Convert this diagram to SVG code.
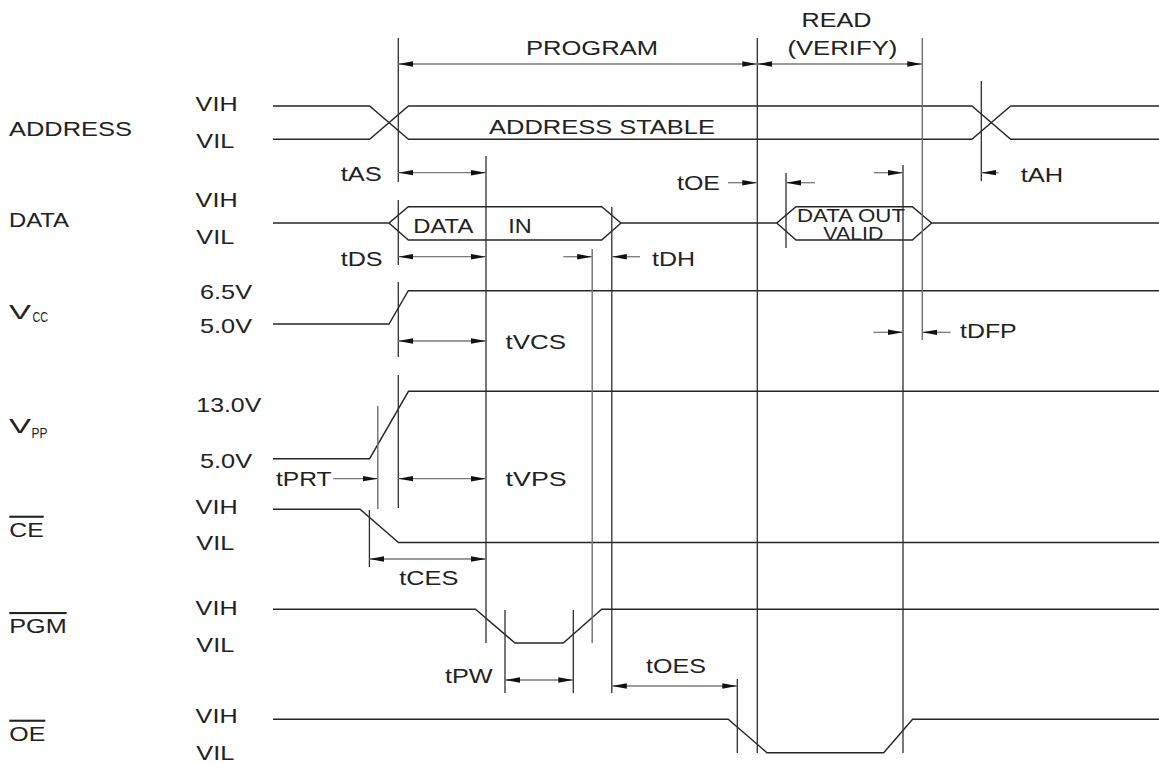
<svg xmlns="http://www.w3.org/2000/svg" width="1159" height="763" viewBox="0 0 1159 763">
<style>
text{font-family:"Liberation Sans",Arial,sans-serif;font-size:21px;fill:#222}
.sig{fill:none;stroke:#262626;stroke-width:1.4}
.ref{stroke:#2e2e2e;stroke-width:1.3}
.refg{stroke:#707070;stroke-width:1.4}
.dim{stroke:#7a7a7a;stroke-width:1.3;marker-start:url(#ah);marker-end:url(#ah)}
.arr{stroke:#7a7a7a;stroke-width:1.3;marker-end:url(#ah)}
.ov{text-decoration:overline}
</style>
<defs>
<marker id="ah" viewBox="0 0 15 6" refX="15" refY="3" markerWidth="15" markerHeight="6" markerUnits="userSpaceOnUse" orient="auto-start-reverse">
<path d="M0,0.3 L15,3 L0,5.7 z" fill="#111"/>
</marker>
</defs>
<rect width="1159" height="763" fill="#fff"/>

<g id="phases">
<text x="526" y="55" textLength="132" lengthAdjust="spacingAndGlyphs">PROGRAM</text>
<text x="801.5" y="27" textLength="70" lengthAdjust="spacingAndGlyphs">READ</text>
<text x="787.4" y="55" textLength="110" lengthAdjust="spacingAndGlyphs">(VERIFY)</text>
</g>

<g id="address">
<text x="9" y="136" textLength="123" lengthAdjust="spacingAndGlyphs">ADDRESS</text>
<text x="195.6" y="111" textLength="42" lengthAdjust="spacingAndGlyphs">VIH</text>
<text x="196.3" y="147.7" textLength="38" lengthAdjust="spacingAndGlyphs">VIL</text>
<path class="sig" d="M273,106 H369.6 L408.5,139.3 H971.9 L1010.7,106 H1159"/>
<path class="sig" d="M273,139.3 H369.6 L408.5,106 H971.9 L1010.7,139.3 H1159"/>
<text x="489" y="134" textLength="226" lengthAdjust="spacingAndGlyphs">ADDRESS STABLE</text>
</g>

<g id="data">
<text x="9" y="227.3" textLength="60" lengthAdjust="spacingAndGlyphs">DATA</text>
<text x="195.6" y="206.7" textLength="42" lengthAdjust="spacingAndGlyphs">VIH</text>
<text x="196.3" y="244" textLength="38" lengthAdjust="spacingAndGlyphs">VIL</text>
<path class="sig" d="M273,223 H389 L408.3,206.7 H601.7 L621,223 H776.7 L796,206.7 H912.3 L931.7,223 H1159"/>
<path class="sig" d="M389,223 L408.3,240 H601.7 L621,223 M776.7,223 L796,240 H912.3 L931.7,223"/>
<text x="413.3" y="233.3" textLength="60" lengthAdjust="spacingAndGlyphs">DATA</text>
<text x="508.3" y="233.3" textLength="23.5" lengthAdjust="spacingAndGlyphs">IN</text>
<text x="797" y="221.5" style="font-size:18.5px" textLength="108" lengthAdjust="spacingAndGlyphs">DATA OUT</text>
<text x="823.3" y="239.8" style="font-size:19px" textLength="60" lengthAdjust="spacingAndGlyphs">VALID</text>
</g>

<g id="vcc">
<text x="9" y="319"><tspan textLength="22" lengthAdjust="spacingAndGlyphs">V</tspan><tspan x="32.4" y="322" style="font-size:14px" textLength="15.5" lengthAdjust="spacingAndGlyphs">CC</tspan></text>
<text x="200" y="299.3" textLength="52" lengthAdjust="spacingAndGlyphs">6.5V</text>
<text x="200" y="332.7" textLength="52" lengthAdjust="spacingAndGlyphs">5.0V</text>
<path class="sig" d="M273,324 H389 L408.3,290.7 H1159"/>
</g>

<g id="vpp">
<text x="9" y="433"><tspan textLength="22" lengthAdjust="spacingAndGlyphs">V</tspan><tspan x="31.6" y="438" style="font-size:14px" textLength="16" lengthAdjust="spacingAndGlyphs">PP</tspan></text>
<text x="196.3" y="412" textLength="65" lengthAdjust="spacingAndGlyphs">13.0V</text>
<text x="200" y="468" textLength="52" lengthAdjust="spacingAndGlyphs">5.0V</text>
<path class="sig" d="M273,458.7 H369.6 L408.5,391.3 H1159"/>
</g>

<g id="ce">
<text class="ov" x="9.3" y="536.7" textLength="34.4" lengthAdjust="spacingAndGlyphs">CE</text>
<text x="195.6" y="513.5" textLength="42" lengthAdjust="spacingAndGlyphs">VIH</text>
<text x="196.3" y="550" textLength="38" lengthAdjust="spacingAndGlyphs">VIL</text>
<path class="sig" d="M273,509.3 H360 L398.5,542.5 H1159"/>
</g>

<g id="pgm">
<text class="ov" x="9.3" y="633" textLength="57.4" lengthAdjust="spacingAndGlyphs">PGM</text>
<text x="195.6" y="615" textLength="42" lengthAdjust="spacingAndGlyphs">VIH</text>
<text x="196.3" y="651.7" textLength="38" lengthAdjust="spacingAndGlyphs">VIL</text>
<path class="sig" d="M273,609.3 H475.5 L515,643 H563.3 L601.7,609.3 H1159"/>
</g>

<g id="oe">
<text class="ov" x="9.3" y="740.7" textLength="36" lengthAdjust="spacingAndGlyphs">OE</text>
<text x="195.6" y="723" textLength="42" lengthAdjust="spacingAndGlyphs">VIH</text>
<text x="196.3" y="760" textLength="38" lengthAdjust="spacingAndGlyphs">VIL</text>
<path class="sig" d="M273,719.3 H728.2 L767,752.7 H883.7 L912.6,719.3 H1159"/>
</g>

<g id="connectors">
<line class="ref" x1="398.3" y1="38" x2="398.3" y2="182"/>
<line class="ref" x1="398.3" y1="200" x2="398.3" y2="265"/>
<line class="ref" x1="398.3" y1="282" x2="398.3" y2="357"/>
<line class="ref" x1="398.3" y1="375" x2="398.3" y2="508"/>
<line class="ref" x1="486" y1="156" x2="486" y2="643"/>
<line class="refg" x1="592.2" y1="249" x2="592.2" y2="643"/>
<line class="ref" x1="611.8" y1="207" x2="611.8" y2="693"/>
<line class="ref" x1="757.3" y1="38" x2="757.3" y2="753"/>
<line class="ref" x1="786" y1="173" x2="786" y2="248"/>
<line class="ref" x1="903" y1="165" x2="903" y2="753"/>
<line class="refg" x1="922.3" y1="38" x2="922.3" y2="340"/>
<line class="ref" x1="981.3" y1="81" x2="981.3" y2="181"/>
<line class="ref" x1="369.4" y1="510" x2="369.4" y2="567"/>
<line class="refg" x1="377.8" y1="406" x2="377.8" y2="509"/>
<line class="ref" x1="505" y1="610" x2="505" y2="693"/>
<line class="ref" x1="573.3" y1="610" x2="573.3" y2="693"/>
<line class="ref" x1="737.3" y1="679" x2="737.3" y2="753"/>
<line class="dim" x1="398.3" y1="64" x2="757.3" y2="64"/>
<line class="dim" x1="757.3" y1="64" x2="922.3" y2="64"/>
<line class="dim" x1="398.3" y1="172.7" x2="486" y2="172.7"/>
<line class="arr" x1="728" y1="182.7" x2="757.3" y2="182.7"/>
<line class="arr" x1="815" y1="182.7" x2="786" y2="182.7"/>
<line class="arr" x1="874" y1="172.7" x2="903" y2="172.7"/>
<line class="arr" x1="998.5" y1="172.7" x2="981.3" y2="172.7"/>
<line class="dim" x1="398.3" y1="256.7" x2="486" y2="256.7"/>
<line class="arr" x1="563.3" y1="256.7" x2="592.2" y2="256.7"/>
<line class="arr" x1="640" y1="256.7" x2="611.8" y2="256.7"/>
<line class="dim" x1="398.3" y1="341" x2="486" y2="341"/>
<line class="arr" x1="873.3" y1="332.3" x2="903" y2="332.3"/>
<line class="arr" x1="950.7" y1="332.3" x2="922.3" y2="332.3"/>
<line class="arr" x1="333.3" y1="478.7" x2="377.8" y2="478.7"/>
<line class="dim" x1="398.3" y1="478.7" x2="486" y2="478.7"/>
<line class="dim" x1="369.4" y1="559" x2="486" y2="559"/>
<line class="dim" x1="505" y1="680" x2="573.3" y2="680"/>
<line class="dim" x1="611.8" y1="686" x2="737.3" y2="686"/>
</g>

<g id="timing-labels">
<text x="340.7" y="181" textLength="41" lengthAdjust="spacingAndGlyphs">tAS</text>
<text x="677" y="190" textLength="43" lengthAdjust="spacingAndGlyphs">tOE</text>
<text x="1020.7" y="181.7" textLength="42.6" lengthAdjust="spacingAndGlyphs">tAH</text>
<text x="340.7" y="265.7" textLength="42" lengthAdjust="spacingAndGlyphs">tDS</text>
<text x="652" y="266" textLength="43" lengthAdjust="spacingAndGlyphs">tDH</text>
<text x="505.6" y="349.3" textLength="60.4" lengthAdjust="spacingAndGlyphs">tVCS</text>
<text x="960" y="338.3" textLength="56.7" lengthAdjust="spacingAndGlyphs">tDFP</text>
<text x="276" y="486" textLength="55.5" lengthAdjust="spacingAndGlyphs">tPRT</text>
<text x="505.6" y="486" textLength="61" lengthAdjust="spacingAndGlyphs">tVPS</text>
<text x="399.3" y="585" textLength="59" lengthAdjust="spacingAndGlyphs">tCES</text>
<text x="445" y="683.3" textLength="47.7" lengthAdjust="spacingAndGlyphs">tPW</text>
<text x="646" y="673.3" textLength="60" lengthAdjust="spacingAndGlyphs">tOES</text>
</g>
</svg>
